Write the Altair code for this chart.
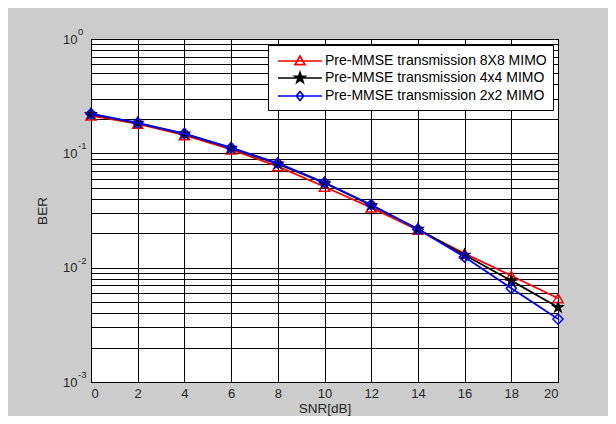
import altair as alt
import pandas as pd

snr = [0, 2, 4, 6, 8, 10, 12, 14, 16, 18, 20]
ber_8x8 = [0.214, 0.181, 0.144, 0.108, 0.077, 0.051, 0.0335, 0.0214, 0.0133, 0.0085, 0.0054]
ber_4x4 = [0.220, 0.184, 0.148, 0.111, 0.081, 0.055, 0.0352, 0.0218, 0.0129, 0.0077, 0.0045]
ber_2x2 = [0.222, 0.185, 0.149, 0.112, 0.082, 0.0556, 0.0355, 0.0217, 0.0124, 0.0066, 0.00355]
series_names = [
    "Pre-MMSE transmission 8X8 MIMO",
    "Pre-MMSE transmission 4x4 MIMO",
    "Pre-MMSE transmission 2x2 MIMO",
]
x_ticks = [0, 2, 4, 6, 8, 10, 12, 14, 16, 18, 20]
decades = [1, 0.1, 0.01, 0.001]
exponents = ["0", "-1", "-2", "-3"]

colors = ["#ff0000", "#000000", "#0000ff"]
STAR = ("M0,-1L0.235,-0.324L0.951,-0.309L0.38,0.124L0.588,0.809L0,0.4"
        "L-0.588,0.809L-0.38,0.124L-0.951,-0.309L-0.235,-0.324Z")
plot_shapes = ["triangle-up", STAR, "diamond"]
plot_fills = ["transparent", "#000000", "transparent"]
legend_paths = [
    "M-2.44,0L2.44,0M0,-0.55L0.55,0.4L-0.55,0.4Z",
    "M-2.44,0L2.44,0M0,-0.6L0.141,-0.194L0.571,-0.185L0.228,0.074L0.353,0.485L0,0.24"
    "L-0.353,0.485L-0.228,0.074L-0.571,-0.185L-0.141,-0.194Z",
    "M-2.44,0L2.44,0M0,-0.5L0.4,0L0,0.5L-0.4,0Z",
]

rows = []
for name, vals in zip(series_names, [ber_8x8, ber_4x4, ber_2x2]):
    for s, v in zip(snr, vals):
        rows.append({"series": name, "snr": s, "ber": v})
df = pd.DataFrame(rows)

y_ticks = [m * d for d in [0.001, 0.01, 0.1] for m in range(1, 10)] + [1]

FONT = "Liberation Sans"
TXT = "#262626"

x_enc = alt.X(
    "snr:Q",
    scale=alt.Scale(domain=[0, 20], nice=False, zero=False),
    axis=alt.Axis(values=x_ticks, title="SNR[dB]", ticks=False, labelPadding=5,
                  titlePadding=1, grid=True),
)
y_enc = alt.Y(
    "ber:Q",
    scale=alt.Scale(type="log", domain=[0.001, 1], nice=False),
    axis=alt.Axis(
        values=y_ticks,
        title="BER",
        ticks=False,
        labelPadding=14,
        titlePadding=13,
        grid=True,
        labelExpr="abs(log(datum.value)/LN10 - round(log(datum.value)/LN10)) < 1e-6 ? '10' : ''",
    ),
)

base = alt.Chart(df).encode(x=x_enc, y=y_enc)

layers = []
for name, c, shp, fl in zip(series_names, colors, plot_shapes, plot_fills):
    sub = base.transform_filter(alt.datum.series == name)
    layers.append(sub.mark_line(color=c, strokeWidth=1.8))
    layers.append(
        sub.mark_point(shape=shp, fill=fl, stroke=c, size=105, strokeWidth=1.5, opacity=1)
    )

leg = alt.Legend(
    title=None,
    orient="none",
    legendX=177,
    legendY=6,
    fillColor="white",
    strokeColor="black",
    padding=6,
    cornerRadius=0,
    symbolSize=324,
    symbolStrokeWidth=1.7,
    symbolOffset=16,
    rowPadding=-2,
    labelFont=FONT,
    labelFontSize=14,
    labelColor="#000000",
    labelLimit=400,
    labelOffset=15,
)

legend_layer = base.transform_filter("datum.snr < 0").mark_point(opacity=1, strokeWidth=1.7).encode(
    color=alt.Color("series:N", scale=alt.Scale(domain=series_names, range=colors), legend=leg),
    shape=alt.Shape("series:N", scale=alt.Scale(domain=series_names, range=legend_paths), legend=leg),
    fill=alt.Fill("series:N", scale=alt.Scale(domain=series_names, range=plot_fills), legend=leg),
)
layers.append(legend_layer)

exp_df = pd.DataFrame({"ber": decades, "exp": exponents})
exp_layer = alt.Chart(exp_df).mark_text(
    align="left", baseline="middle", dx=-13, dy=-7, fontSize=9.5, font=FONT, color=TXT
).encode(x=alt.value(0), y=y_enc, text="exp:N")
layers.append(exp_layer)

chart = (
    alt.layer(*layers)
    .properties(
        width=467,
        height=343,
        autosize=alt.AutoSizeParams(type="none"),
        padding={"left": 83, "top": 31, "right": 50, "bottom": 34},
        background="#cccccc",
    )
    .configure_view(stroke="black", strokeWidth=1, fill="white")
    .configure_axis(
        domainColor="black",
        domainWidth=1,
        gridColor="black",
        gridOpacity=1,
        gridWidth=1,
        labelFont=FONT,
        labelFontSize=13,
        labelColor=TXT,
        titleFont=FONT,
        titleFontSize=13.5,
        titleFontWeight="normal",
        titleColor=TXT,
    )
)

chart.save("out.html", embed_options={"renderer": "svg", "actions": False})
